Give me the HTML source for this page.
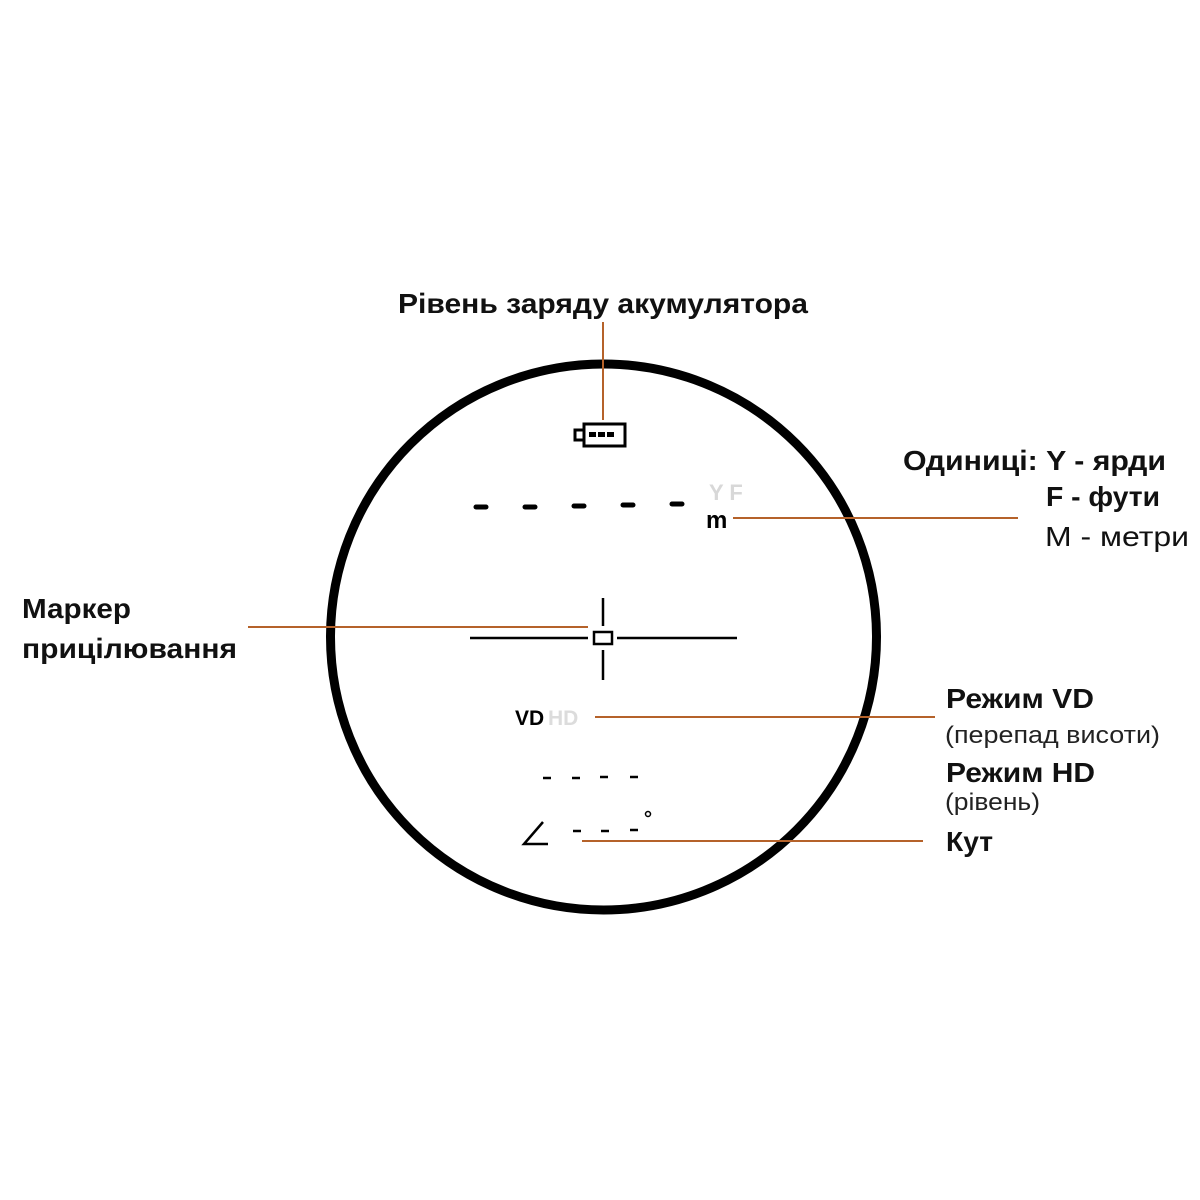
<!DOCTYPE html>
<html><head><meta charset="utf-8"><style>
html,body{margin:0;padding:0;background:#fff;}
svg{display:block;}
text{font-family:"Liberation Sans","DejaVu Sans",sans-serif;}
</style></head><body>
<svg width="1200" height="1200" viewBox="0 0 1200 1200" xmlns="http://www.w3.org/2000/svg">
<rect width="1200" height="1200" fill="#fff"/>
<circle cx="603.5" cy="637" r="273" fill="none" stroke="#000" stroke-width="9"/>
<g stroke="#b5622a" stroke-width="2" fill="none">
<line x1="603" y1="322" x2="603" y2="420"/>
<line x1="733" y1="518" x2="1018" y2="518"/>
<line x1="248" y1="627" x2="588" y2="627"/>
<line x1="595" y1="717" x2="935" y2="717"/>
<line x1="582" y1="841" x2="923" y2="841"/>
</g>
<g fill="none" stroke="#000" stroke-width="3">
<rect x="584" y="424" width="41" height="22"/>
<rect x="575" y="430" width="9" height="10"/>
</g>
<rect x="589" y="432" width="7" height="5" fill="#000"/>
<rect x="598" y="432" width="7" height="5" fill="#000"/>
<rect x="607" y="432" width="7" height="5" fill="#000"/>
<g stroke="#000" stroke-width="5" stroke-linecap="round">
<line x1="476" y1="507" x2="486" y2="507"/>
<line x1="525" y1="507" x2="535" y2="507"/>
<line x1="574" y1="506" x2="584" y2="506"/>
<line x1="623" y1="505" x2="633" y2="505"/>
<line x1="672" y1="504" x2="682" y2="504"/>
</g>
<text x="709" y="500" font-size="22" font-weight="bold" fill="#d8d8d8">Y F</text>
<text x="706" y="528" font-size="24" font-weight="bold" fill="#000">m</text>
<g stroke="#000" stroke-width="2.5" fill="none">
<line x1="470" y1="638" x2="588" y2="638"/>
<line x1="617" y1="638" x2="737" y2="638"/>
<line x1="603" y1="598" x2="603" y2="626"/>
<line x1="603" y1="650" x2="603" y2="680"/>
<rect x="594" y="632" width="18" height="12"/>
</g>
<text x="515" y="725" font-size="21" font-weight="bold" fill="#000">VD</text>
<text x="548" y="725" font-size="21" font-weight="bold" fill="#dcdcdc">HD</text>
<g stroke="#000" stroke-width="2.5">
<line x1="543" y1="778" x2="551" y2="778"/>
<line x1="572" y1="778" x2="580" y2="778"/>
<line x1="600" y1="777" x2="608" y2="777"/>
<line x1="630" y1="777" x2="638" y2="777"/>
<line x1="573" y1="831" x2="581" y2="831"/>
<line x1="601" y1="831" x2="609" y2="831"/>
<line x1="630" y1="830" x2="638" y2="830"/>
</g>
<circle cx="648" cy="814" r="2.5" fill="none" stroke="#000" stroke-width="1.5"/>
<polyline points="543,822 524,844 548,844" fill="none" stroke="#000" stroke-width="2.5"/>
<g font-weight="bold" fill="#111" font-size="28" lengthAdjust="spacingAndGlyphs">
<text x="398" y="313" textLength="410" lengthAdjust="spacingAndGlyphs">Рівень заряду акумулятора</text>
<text x="903" y="470" textLength="263" lengthAdjust="spacingAndGlyphs">Одиниці: Y - ярди</text>
<text x="1046" y="506" textLength="114" lengthAdjust="spacingAndGlyphs">F - фути</text>
<text x="1045" y="546" textLength="144" lengthAdjust="spacingAndGlyphs" font-weight="normal">M - метри</text>
<text x="22" y="618" textLength="109" lengthAdjust="spacingAndGlyphs">Маркер</text>
<text x="22" y="658" textLength="215" lengthAdjust="spacingAndGlyphs">прицілювання</text>
<text x="946" y="708" textLength="148" lengthAdjust="spacingAndGlyphs">Режим VD</text>
<text x="946" y="782" textLength="149" lengthAdjust="spacingAndGlyphs">Режим HD</text>
<text x="946" y="851" textLength="47" lengthAdjust="spacingAndGlyphs">Кут</text>
</g>
<g fill="#222" font-size="24">
<text x="945" y="743" textLength="215" lengthAdjust="spacingAndGlyphs">(перепад висоти)</text>
<text x="945" y="810" textLength="95" lengthAdjust="spacingAndGlyphs">(рівень)</text>
</g>
</svg>
</body></html>
